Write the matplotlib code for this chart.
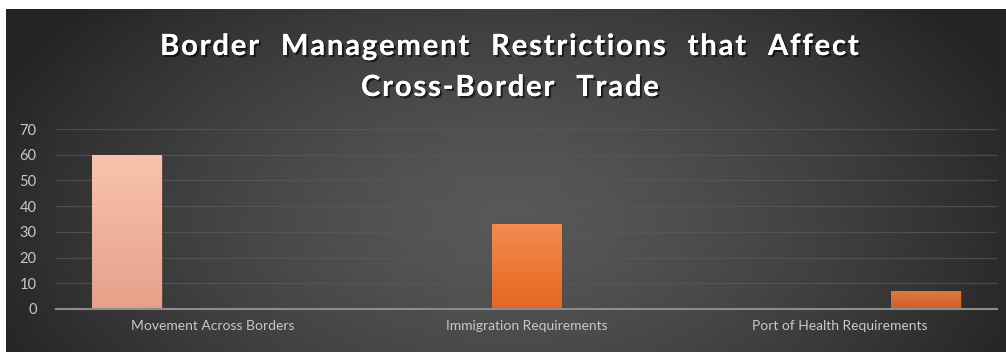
import numpy as np
import matplotlib
matplotlib.use("Agg")
import matplotlib.pyplot as plt
from matplotlib.colors import LinearSegmentedColormap
import matplotlib.patheffects as pe

plt.rcParams['font.family'] = ['Lato', 'DejaVu Sans']

title_lines = ["Border Management Restrictions that Affect", "Cross-Border Trade"]
categories = ["Movement Across Borders", "Immigration Requirements", "Port of Health Requirements"]
# one series per category; each series only has a value in its own category
series_values = [
    [60, 0, 0],
    [0, 33, 0],
    [0, 0, 7],
]
y_ticks = [0, 10, 20, 30, 40, 50, 60, 70]

bar_gradients = [
    ("#f8c3ae", "#e6a08a"),
    ("#f28c50", "#e5671f"),
    ("#db7a44", "#cf5f22"),
]


def spaced(text):
    # widen the tracking of the heading: hair space between letters, wider word gaps
    words = text.split(" ")
    return "\u2003".join("\u200a".join(w) for w in words)


W, H = 1006, 352
fig = plt.figure(figsize=(W / 100, H / 100), dpi=100, facecolor="white")

# dark panel with a soft radial gradient
bg = fig.add_axes([6 / W, 0, 1 - 6 / W, 1 - 9 / H])
bg.set_axis_off()
yy, xx = np.mgrid[0:343, 0:1000]
r = np.sqrt(((xx - 500) / 560.0) ** 2 + ((yy - 210) / 330.0) ** 2)
r = np.clip(r, 0, 1)
c_center, c_edge = 0.345, 0.14
val = c_center - (c_center - c_edge) * r ** 1.4
bg.imshow(np.dstack([val, val, val]), aspect="auto", extent=[0, 1, 0, 1], origin="upper")
bg.set_xlim(0, 1)
bg.set_ylim(0, 1)

shadow = [pe.withSimplePatchShadow(offset=(1.5, -1.5), shadow_rgbFace="black", alpha=0.6), pe.Normal()]
for i, line in enumerate(title_lines):
    fig.text(0.507, 1 - (47 + 41 * i) / H, spaced(line), ha="center", va="center", color="white",
             fontsize=21, fontweight="bold", path_effects=shadow)

ax = fig.add_axes([56 / W, (H - 309) / H, 941 / W, 180 / H])
ax.patch.set_alpha(0)

n_series = len(series_values)
spacing = 0.274
width = 0.223
x = np.arange(len(categories))
for s, vals in enumerate(series_values):
    offs = (s - (n_series - 1) / 2) * spacing
    top_c, bot_c = bar_gradients[s]
    cmap = LinearSegmentedColormap.from_list(f"g{s}", [bot_c, top_c])
    bars = ax.bar(x + offs, vals, width=width, color=top_c,
                  edgecolor=(0.1, 0.1, 0.1, 0.5), linewidth=0.8, zorder=3)
    for b in bars:
        h = b.get_height()
        if h <= 0:
            continue
        x0 = b.get_x()
        grad = np.linspace(0, 1, 100).reshape(-1, 1)
        im = ax.imshow(grad, cmap=cmap, aspect="auto", origin="lower",
                       extent=[x0, x0 + b.get_width(), 0, h], zorder=3.5)
        im.set_clip_path(b)

ax.set_xlim(-0.5, len(categories) - 0.5)
ax.set_ylim(0, 70)

ax.set_yticks(y_ticks)
ax.set_yticklabels([str(t) for t in y_ticks])
ax.set_xticks(x)
ax.set_xticklabels(categories)
ax.tick_params(axis="both", length=0, colors="#c8c8c8", labelsize=10)
ax.tick_params(axis="y", labelsize=10.5, pad=14)
ax.tick_params(axis="x", pad=8)
ax.grid(axis="y", color="#5a5a5a", linewidth=0.9, alpha=0.7, zorder=0)
ax.set_axisbelow(True)
for side in ["top", "right", "left"]:
    ax.spines[side].set_visible(False)
ax.spines["bottom"].set_color("#8c8c8c")
ax.spines["bottom"].set_linewidth(1.5)
ax.spines["bottom"].set_zorder(4)

fig.savefig("out.png", dpi=100, facecolor="white")
